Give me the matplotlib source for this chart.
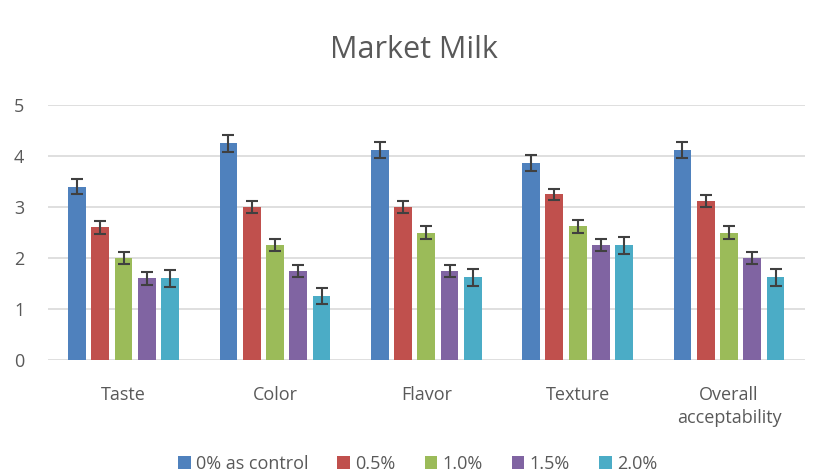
import matplotlib
matplotlib.use("Agg")
import matplotlib.pyplot as plt
import numpy as np
from matplotlib.patches import Patch

categories = ["Taste", "Color", "Flavor", "Texture", "Overall\nacceptability"]
series_names = ["0% as control", "0.5%", "1.0%", "1.5%", "2.0%"]
control = [3.40, 4.25, 4.12, 3.87, 4.12]
p05 = [2.60, 3.00, 3.00, 3.25, 3.12]
p10 = [2.00, 2.25, 2.50, 2.62, 2.50]
p15 = [1.60, 1.75, 1.75, 2.25, 2.00]
p20 = [1.60, 1.25, 1.62, 2.25, 1.62]
err_control = [0.15, 0.17, 0.16, 0.16, 0.16]
err_p05 = [0.12, 0.11, 0.11, 0.11, 0.11]
err_p10 = [0.11, 0.12, 0.12, 0.12, 0.12]
err_p15 = [0.12, 0.12, 0.12, 0.12, 0.12]
err_p20 = [0.16, 0.16, 0.17, 0.17, 0.17]
yticks = [0, 1, 2, 3, 4, 5]

values = [control, p05, p10, p15, p20]
errors = [err_control, err_p05, err_p10, err_p15, err_p20]
colors = ["#4F81BD", "#C0504D", "#9BBB59", "#8064A2", "#4BACC6"]

plt.rcParams['font.family'] = ['Open Sans', 'DejaVu Sans']
text_color = "#595959"

fig = plt.figure(figsize=(8.27, 4.76), dpi=100)
ax = fig.add_axes([0.058, 0.2437, 0.915, 0.5356])

x = np.arange(len(categories))
step = 0.154
width = 0.117
for i, (vals, errs, c, name) in enumerate(zip(values, errors, colors, series_names)):
    pos = x + (i - 2) * step
    ax.bar(pos, vals, width=width, color=c, label=name, zorder=3)
    ax.errorbar(pos, vals, yerr=errs, fmt='none', ecolor="#404040",
                elinewidth=1.5, capsize=4, capthick=1.5, zorder=4)

ax.set_xlim(-0.5, len(categories) - 0.5)
ax.set_ylim(0, 5)
ax.set_yticks(yticks)
ax.grid(axis='y', color="#D9D9D9", linewidth=1.2, zorder=0)
for s in ax.spines.values():
    s.set_visible(False)
ax.tick_params(axis='both', length=0, colors=text_color, labelsize=13)
ax.tick_params(axis='y', pad=17)
ax.tick_params(axis='x', pad=19)
ax.set_xticks(x)
ax.set_xticklabels(categories, color=text_color, linespacing=1.35, va='top')
for lbl in ax.get_yticklabels():
    lbl.set_color(text_color)

fig.text(0.5, 0.895, "Market Milk", ha='center', va='center',
         fontsize=22, color=text_color)

handles = [Patch(facecolor=c, label=n) for c, n in zip(colors, series_names)]
leg = fig.legend(handles=handles, loc='center', bbox_to_anchor=(0.505, 0.025),
                 ncol=5, frameon=False, fontsize=13, handlelength=0.7,
                 handleheight=0.7, handletextpad=0.3, columnspacing=1.6,
                 labelcolor=text_color)

fig.savefig("out.png", dpi=100, facecolor="white")
